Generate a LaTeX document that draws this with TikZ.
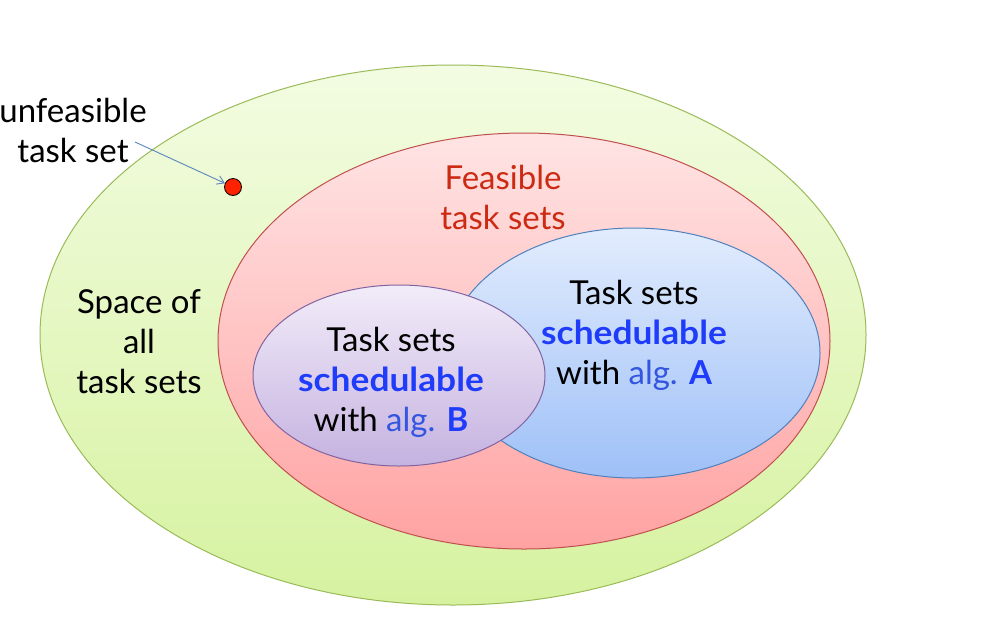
\documentclass[tikz,border=0pt]{standalone}
\usepackage{fontspec}
\setmainfont{Lato}
\usetikzlibrary{arrows.meta,shapes.geometric}
\definecolor{gstroke}{HTML}{9BBB59}
\definecolor{gtop}{HTML}{F3FCE2}
\definecolor{gbot}{HTML}{D6F2A0}
\definecolor{rstroke}{HTML}{C0504D}
\definecolor{rtop}{HTML}{FFE4E4}
\definecolor{rbot}{HTML}{FFA2A2}
\definecolor{bstroke}{HTML}{4F81BD}
\definecolor{btop}{HTML}{E2ECFD}
\definecolor{bbot}{HTML}{9EC0F7}
\definecolor{pstroke}{HTML}{8064A2}
\definecolor{ptop}{HTML}{F2ECF9}
\definecolor{pbot}{HTML}{C5B2E0}
\definecolor{feas}{HTML}{CC2A12}
\definecolor{schedblue}{HTML}{1E3CFA}
\definecolor{algblue}{HTML}{3355E0}
\definecolor{dotred}{HTML}{FF2200}
\definecolor{arrowc}{HTML}{5A86C0}
\newcommand{\schedword}{{\bfseries\color{schedblue}\scalebox{1.07}[1]{schedulable}}}
\begin{document}
\begin{tikzpicture}[x=1pt,y=-1pt,
  region/.style={ellipse,draw,line width=1pt,inner sep=0pt},
  lbl/.style={align=center,font=\fontsize{33}{40}\selectfont,inner sep=0pt},
]
\useasboundingbox[fill=white] (0,0) rectangle (982,622);
\node[region,draw=gstroke,top color=gtop,bottom color=gbot,minimum width=826pt,minimum height=540pt] (all) at (453,335) {};
\node[region,draw=rstroke,top color=rtop,bottom color=rbot,minimum width=612pt,minimum height=416pt] (feasible) at (524,341) {};
\node[region,draw=bstroke,top color=btop,bottom color=bbot,minimum width=372pt,minimum height=250pt] (algA) at (634,353) {};
\node[region,draw=pstroke,top color=ptop,bottom color=pbot,minimum width=292pt,minimum height=181pt] (algB) at (399,375.5) {};

\node[circle,draw=black,line width=0.8pt,fill=dotred,minimum size=17pt,inner sep=0pt] (dot) at (233,187) {};

\node[lbl,anchor=center] (unf) at (73,130) {unfeasible\\task set};
\coordinate (arrstart) at (135,142);
\draw[arrowc,line width=0.9pt,-{Straight Barb[length=7pt,width=9pt]}] (arrstart) -- (dot);

\node[lbl,text=feas] (feaslbl) at (503,197) {Feasible\\task sets};
\node[lbl] (spacelbl) at (139,342) {Space of\\all\\task sets};
\node[lbl] (albl) at (634,335) {Task sets\\\schedword\\with {\color{algblue}alg.} {\bfseries\color{schedblue}A}};
\node[lbl] (blbl) at (391,382) {Task sets\\\schedword\\with {\color{algblue}alg.} {\bfseries\color{schedblue}B}};
\end{tikzpicture}
\end{document}
